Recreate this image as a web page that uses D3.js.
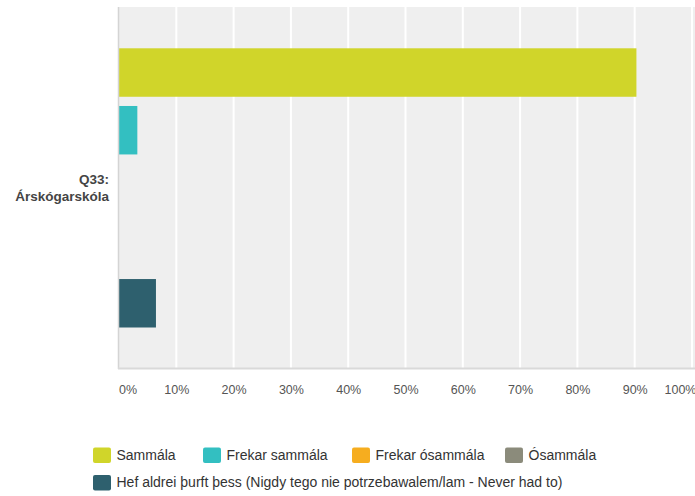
<!DOCTYPE html>
<html><head><meta charset="utf-8">
<script src="https://cdn.jsdelivr.net/npm/d3@7"></script>
<style>body{margin:0;background:#fff;font-family:"Liberation Sans",Arial,sans-serif;}</style>
</head><body><svg id="c" width="695" height="496"></svg>
<script>
const categories = ["Q33: Árskógarskóla"];
const seriesNames = ["Sammála","Frekar sammála","Frekar ósammála","Ósammála","Hef aldrei þurft þess (Nigdy tego nie potrzebawalem/lam - Never had to)"];
const seriesValues = [90.3, 3.2, 0, 0, 6.45];
const seriesColors = ["#d0d52a","#33bfc1","#f6ad1f","#8b8b7b","#2e606e"];
const tickValues = [0,10,20,30,40,50,60,70,80,90,100];

const svg = d3.select("#c");
const m = {left:119, top:7, right:692, bottom:368};
const x = d3.scaleLinear().domain([0,100]).range([m.left, m.right]);
const y0 = d3.scaleBand().domain(categories).range([m.top, m.bottom]);
const y1 = d3.scaleBand().domain(seriesNames).range([y0(categories[0])+41.3, y0(categories[0])+320.5]).paddingInner(0.16);

svg.append("rect").attr("x", m.left).attr("y", m.top).attr("width", 695-m.left).attr("height", m.bottom-m.top).attr("fill","#efefef");
svg.append("g").selectAll("line").data(tickValues.slice(1)).join("line")
  .attr("x1", d=>x(d)).attr("x2", d=>x(d)).attr("y1", m.top).attr("y2", m.bottom)
  .attr("stroke","#fff").attr("stroke-width",2);

svg.append("g").selectAll("rect").data(seriesNames.map((s,i)=>({s, v:seriesValues[i], c:seriesColors[i]})).filter(d=>d.v>0)).join("rect")
  .attr("x", x(0)).attr("y", d=>y1(d.s)).attr("width", d=>x(d.v)-x(0)).attr("height", y1.bandwidth()).attr("fill", d=>d.c);

svg.append("line").attr("x1",m.left-0.5).attr("x2",m.left-0.5).attr("y1",m.top).attr("y2",m.bottom+1).attr("stroke","#d4d4d4").attr("stroke-width",1.5);
svg.append("line").attr("x1",m.left-1).attr("x2",695).attr("y1",m.bottom+0.5).attr("y2",m.bottom+0.5).attr("stroke","#d9d9d9").attr("stroke-width",2);

const xAxis = d3.axisBottom(x).tickValues(tickValues).tickFormat(d=>d+"%").tickSize(0).tickPadding(17);
const ga = svg.append("g").attr("transform",`translate(0,${m.bottom})`).call(xAxis);
ga.select(".domain").remove();
ga.selectAll("text").attr("font-family","Liberation Sans, Arial, sans-serif").attr("font-size",12.5).attr("fill","#555")
  .attr("dx", d=>d===100?-12:(d===0?8.5:0));

const lab = svg.append("text").attr("text-anchor","end").attr("font-size",13.5).attr("font-weight","bold").attr("fill","#444")
  .attr("font-family","Liberation Sans, Arial, sans-serif");
const parts = ["Q33:", "Árskógarskóla"];
const cy = y0(categories[0]) + y0.bandwidth()/2;
lab.selectAll("tspan").data(parts).join("tspan").attr("x", 109).attr("y",(d,i)=>cy-4+i*17).text(d=>d);

const legendX = [93, 203, 352, 505, 93];
const legendY = [447.5, 447.5, 447.5, 447.5, 475];
const lg = svg.append("g").selectAll("g").data(seriesNames).join("g")
  .attr("transform",(d,i)=>`translate(${legendX[i]},${legendY[i]})`);
lg.append("rect").attr("width",18).attr("height",15.5).attr("rx",2).attr("fill",(d,i)=>seriesColors[i]);
lg.append("text").attr("x",23.5).attr("y",12).attr("font-size",14).attr("fill","#333")
  .attr("font-family","Liberation Sans, Arial, sans-serif").text(d=>d);
</script></body></html>
